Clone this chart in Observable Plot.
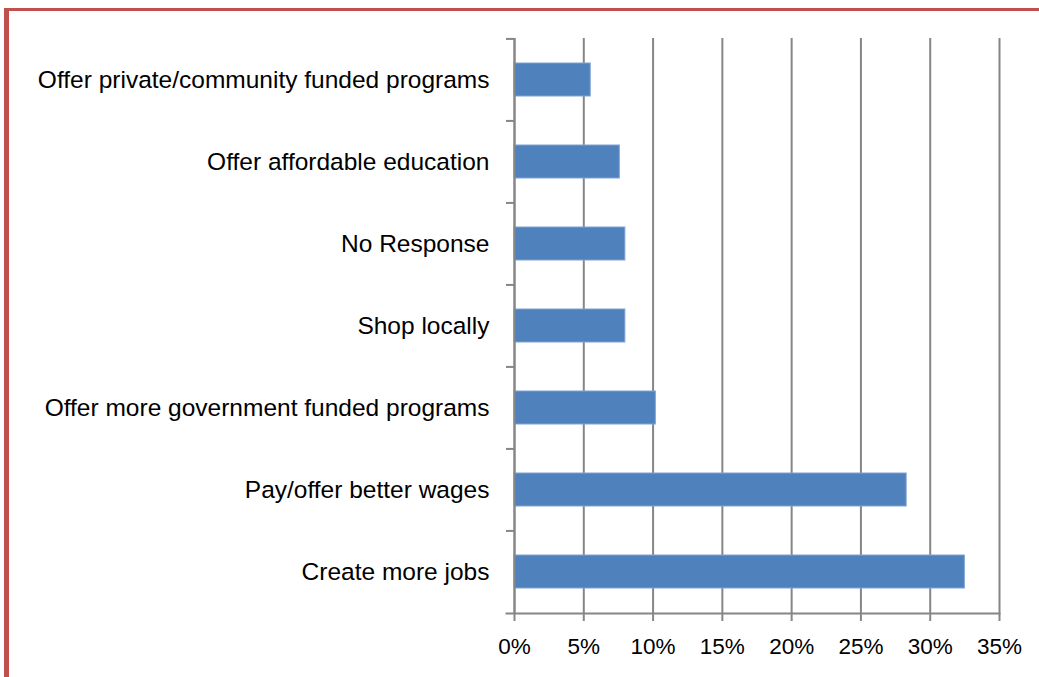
<!DOCTYPE html>
<html>
<head>
<meta charset="utf-8">
<script src="https://cdn.jsdelivr.net/npm/d3@7"></script>
<script src="https://cdn.jsdelivr.net/npm/@observablehq/plot@0.6"></script>
<style>
  html, body { margin: 0; padding: 0; background: #fff; }
  #wrap { position: relative; width: 1039px; height: 677px; overflow: hidden; }
  #wrap svg { position: absolute; left: 0; top: 0; }
  #frame { position: absolute; left: 4px; top: 8px; width: 1100px; height: 700px;
           border-left: 5px solid #C0504D; border-top: 3px solid #C0504D; box-sizing: border-box; }
</style>
</head>
<body>
<div id="wrap"><div id="frame"></div></div>
<script>
const categories = [
  "Offer private/community funded programs",
  "Offer affordable education",
  "No Response",
  "Shop locally",
  "Offer more government funded programs",
  "Pay/offer better wages",
  "Create more jobs"
];
const values = [5.5, 7.6, 8.0, 8.0, 10.2, 28.3, 32.5];
const xTicks = [0, 5, 10, 15, 20, 25, 30, 35];

const data = categories.map((c, i) => ({category: c, value: values[i]}));

const W = 1039, H = 677;
const mTop = 38, mBottom = 64, mLeft = 514, mRight = 40;
const step = (H - mTop - mBottom) / categories.length;
const gray = "#868686";

const chart = Plot.plot({
  width: W,
  height: H,
  marginTop: mTop,
  marginBottom: mBottom,
  marginLeft: mLeft,
  marginRight: mRight,
  style: {fontFamily: "'Liberation Sans', Arial, sans-serif", fontSize: "22.5px", color: "#000", background: "transparent"},
  x: {domain: [0, 35], ticks: xTicks, tickFormat: d => d + "%"},
  y: {domain: categories, paddingInner: 0.6, paddingOuter: 0.3},
  marks: [
    Plot.ruleX(xTicks, {x: d => d, stroke: gray, strokeWidth: 2}),
    Plot.barX(data, {y: "category", x: "value", fill: "#4F81BD", stroke: "#7FA3D3", strokeWidth: 1}),
    Plot.ruleX([0], {stroke: gray, strokeWidth: 2}),
    Plot.frame({anchor: "bottom", stroke: gray, strokeWidth: 2, insetLeft: -8}),
    Plot.ruleY(categories, {y: d => d, x1: () => 0, x2: () => 0, insetLeft: -8, dy: -step / 2, stroke: gray, strokeWidth: 2}),
    Plot.axisX({ticks: xTicks, tickFormat: d => d + "%", tickSize: 8, tickPadding: 17, stroke: gray, strokeWidth: 2, strokeOpacity: 1, fill: "#000", label: null}),
    Plot.axisY({tickSize: 0, tickPadding: 25, fill: "#000", fontSize: 24.5, label: null})
  ]
});
document.getElementById("wrap").insertBefore(chart, document.getElementById("frame"));
</script>
</body>
</html>
